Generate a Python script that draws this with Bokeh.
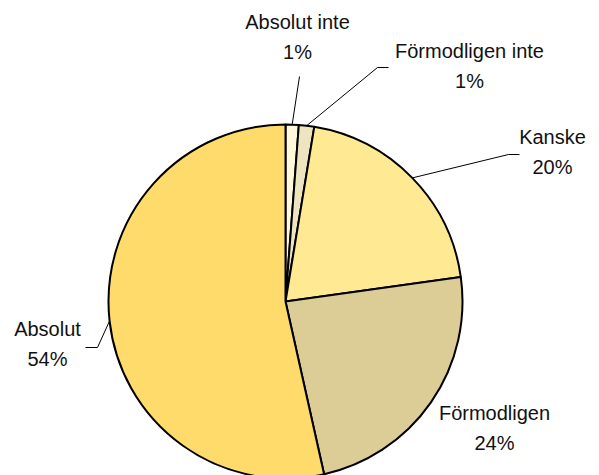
import numpy as np
from bokeh.plotting import figure
from bokeh.models import ColumnDataSource, Range1d
from bokeh.core.properties import value
from bokeh.embed import file_html
from bokeh.resources import INLINE

# ---- data ----
categories = ["Absolut inte", "Förmodligen inte", "Kanske", "Förmodligen", "Absolut"]
shares = [1.2, 1.4, 20.2, 23.7, 53.5]
pct_labels = ["1%", "1%", "20%", "24%", "54%"]
colors = ["#FFF8DA", "#EEE4BF", "#FFEA93", "#DBCD95", "#FFDB6B"]

# ---- layout (page pixel coordinates) ----
W, H = 599, 475
def px(x):
    return x
def py(y):
    return H - y

cx, cy, R = px(285), py(301), 177
label_pos = [(297, 21), (469, 50), (552, 136), (494, 412), (47, 328)]
line_gap = 30
# leader polylines beyond the pie edge: list of page points (None = no leader)
leaders = [[(299, 76)], [(377, 67), (388, 67)], [(508, 154), (519, 154)], None,
           [(97, 347), (85, 347)]]

vals = np.array(shares, dtype=float)
frac = vals / vals.sum()
cum_end = np.cumsum(frac)
cum_start = cum_end - frac
start_angle = np.pi / 2 - 2 * np.pi * cum_start
end_angle = np.pi / 2 - 2 * np.pi * cum_end
mid = (start_angle + end_angle) / 2

src = ColumnDataSource(dict(cat=categories, start=start_angle, end=end_angle, color=colors))

p = figure(width=W, height=H, output_backend="svg", toolbar_location=None,
           x_range=Range1d(0, W), y_range=Range1d(0, H), min_border=0)
p.axis.visible = False
p.grid.visible = False
p.outline_line_color = None
p.background_fill_color = "white"

p.wedge(x=cx, y=cy, radius=R, start_angle="start", end_angle="end", direction="clock",
        fill_color="color", line_color="black", line_width=2, source=src)

# leader lines
for i, pts in enumerate(leaders):
    if pts is None:
        continue
    ex = cx + R * np.cos(mid[i])
    ey = cy + R * np.sin(mid[i])
    xs = [ex] + [px(a) for a, b in pts]
    ys = [ey] + [py(b) for a, b in pts]
    p.line(xs, ys, line_color="black", line_width=1)

# labels
tx = [px(a) for a, b in label_pos]
ty_name = [py(b) for a, b in label_pos]
ty_pct = [py(b + line_gap) for a, b in label_pos]
lab = ColumnDataSource(dict(x=tx, yn=ty_name, yp=ty_pct, name=categories, pct=pct_labels))
common = dict(text_align="center", text_baseline="middle", text_color="#111111",
              text_font=value("Liberation Sans"), text_font_size="20px", source=lab)
p.text(x="x", y="yn", text="name", **common)
p.text(x="x", y="yp", text="pct", **common)

open("out.html", "w").write(file_html(p, INLINE))
